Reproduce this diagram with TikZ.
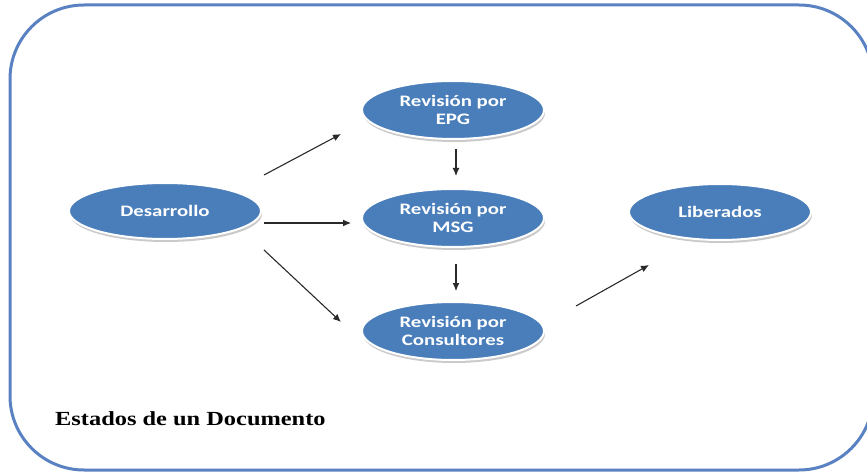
\documentclass[tikz,border=0pt]{standalone}
\usepackage{fontspec}
\usetikzlibrary{shapes.geometric,arrows.meta,calc,shadows}
\newfontfamily\nodefont{Carlito}[FakeStretch=1.3]
\newfontfamily\titlefont{Liberation Serif}[FakeStretch=1.22]
\definecolor{frameblue}{HTML}{5A82C2}
\definecolor{ellblue}{HTML}{4A7EBB}
\definecolor{arrowgray}{HTML}{2A2A2A}
\tikzset{
  state/.style={ellipse, fill=ellblue, draw=white, line width=2pt,
    minimum width=182pt, minimum height=58pt, inner sep=0pt,
    align=center, text=white,
    font=\nodefont\bfseries\fontsize{16}{18}\selectfont,
    drop shadow={shadow xshift=1pt, shadow yshift=-3pt, opacity=0.35, fill=black!60}},
  conn/.style={draw=arrowgray, line width=1.1pt, -{Latex[length=8pt,width=7pt]}},
  frame/.style={draw=frameblue, line width=3pt, rounded corners=74pt}
}
\begin{document}
\begin{tikzpicture}[x=1pt,y=-1pt]
\useasboundingbox (0,0) rectangle (867,473);
\begin{scope}
\clip (0,0) rectangle (867,473);
\draw[frame] (10,5) rectangle (873,470);
\end{scope}

\node[state, minimum width=192pt, minimum height=56pt] (des) at (165,211) {Desarrollo};
\node[state] (epg) at (453,110) {Revisión por\\EPG};
\node[state] (msg) at (453,218) {Revisión por\\MSG};
\node[state] (cons) at (453,331) {Revisión por\\Consultores};
\node[state, minimum height=56pt] (lib) at (720,212) {Liberados};

\node[anchor=base west, inner sep=0pt, font=\titlefont\bfseries\fontsize{20}{22}\selectfont] (title) at (55,425) {Estados de un Documento};

\draw[conn] ($(des.east)+(2,-36)$) -- ($(epg.west)+(-20,24)$);
\draw[conn] ($(des.east)+(2,12)$) -- ($(msg.west)+(-10,5)$);
\draw[conn] ($(des.east)+(2,39)$) -- ($(cons.west)+(-20,-9)$);
\draw[conn] ($(epg.south)+(3,9)$) -- ($(msg.north)+(3,-12)$);
\draw[conn] ($(msg.south)+(3,16)$) -- ($(cons.north)+(3,-10)$);
\draw[conn] ($(cons.east)+(31,-25)$) -- ($(lib.west)+(21,53)$);
\end{tikzpicture}
\end{document}
